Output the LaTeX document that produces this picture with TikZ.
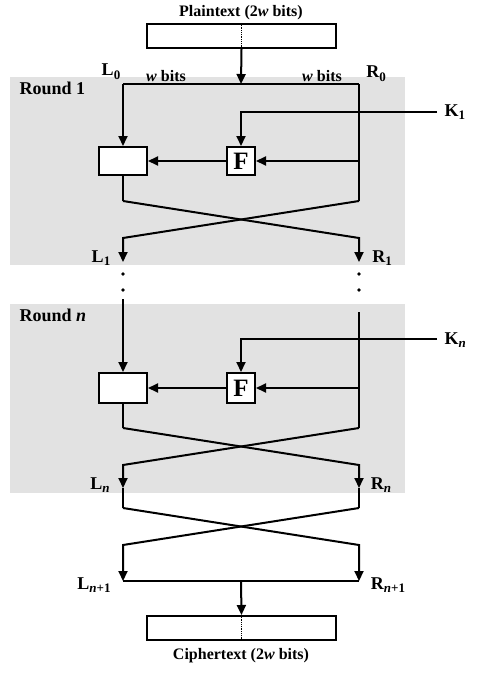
\documentclass[tikz,border=0pt]{standalone}
\usepackage{fontspec}
\setmainfont{Liberation Serif}
\usetikzlibrary{arrows.meta}
\definecolor{roundgray}{RGB}{226,226,226}
\newcommand{\lowsub}[1]{\raisebox{-0.45ex}{\fontsize{13}{14}\selectfont #1}}
\begin{document}
\begin{tikzpicture}[x=1pt,y=-1pt,
  wire/.style={line width=2pt},
  arr/.style={wire,-{Triangle[length=10pt,width=9pt]}},
  blk/.style={draw,line width=2pt,fill=white,inner sep=0pt},
  lbl/.style={font=\fontsize{18}{19}\selectfont\bfseries},
  small/.style={font=\fontsize{16}{17}\selectfont\bfseries},
  rnd/.style={font=\fontsize{18}{19}\selectfont\bfseries,anchor=west}]
\useasboundingbox (0,0) rectangle (477,674);
% gray rounds
\fill[roundgray] (10,77) rectangle (405,265);
\fill[roundgray] (10,304) rectangle (405,493);
\node[rnd] (r1) at (16,88) {Round 1};
\node[rnd] (rn) at (16,315) {Round \textit{n}};
% plaintext
\node[small] (pt) at (241,13) {Plaintext (2\textit{w} bits)};
\node[blk,minimum width=189pt,minimum height=24pt] (pbox) at (241.5,36) {};
\draw[densely dotted,line width=0.8pt] (pbox.north) -- (pbox.south);
\coordinate (top) at (241,84);
\draw[arr] (pbox.south) -- (top);
\coordinate (tl) at (123,84);
\coordinate (tr) at (359,84);
\draw[wire] (tl) -- (tr);
\node[lbl] (l0) at (111,72) {L\lowsub{0}};
\node[lbl] (r0) at (376,74) {R\lowsub{0}};
\node[small] (wl) at (166,76) {\textit{w} bits};
\node[small] (wr) at (322,76) {\textit{w} bits};
% round 1
\node[blk,minimum width=48pt,minimum height=28pt] (x1) at (123,161) {};
\node[blk,minimum width=28pt,minimum height=28pt,font=\fontsize{25}{25}\selectfont\bfseries] (f1) at (241,161) {F};
\draw[arr] (tl) -- (x1.north);
\coordinate (rb1) at (359,201);
\draw[wire] (tr) -- (rb1);
\coordinate (rf1) at (359,161);
\draw[arr] (rf1) -- (f1.east);
\draw[arr] (f1.west) -- (x1.east);
\coordinate (k1s) at (437,112);
\draw[arr] (k1s) -| (f1.north);
\node[lbl,anchor=west] (k1) at (441,112) {K\lowsub{1}};
\coordinate (lb1) at (123,201);
\coordinate (l1) at (123,262);
\coordinate (r1e) at (359,262);
\draw[wire] (x1.south) -- (lb1);
\draw[arr] (lb1) -- (359,238) -- (r1e);
\draw[arr] (rb1) -- (123,238) -- (l1);
\node[lbl] (l1t) at (101,258) {L\lowsub{1}};
\node[lbl] (r1t) at (382,258) {R\lowsub{1}};
% dots
\foreach \xx in {123,359}{
  \fill (\xx,274) circle (1.8pt);
  \fill (\xx,290) circle (1.8pt);
}
% round n
\node[blk,minimum width=48pt,minimum height=30pt] (xn) at (123,388) {};
\node[blk,minimum width=28pt,minimum height=30pt,font=\fontsize{25}{25}\selectfont\bfseries] (fn) at (241,388) {F};
\coordinate (ls) at (123,299);
\coordinate (rs) at (359,312);
\draw[arr] (ls) -- (xn.north);
\coordinate (rbn) at (359,428);
\draw[wire] (rs) -- (rbn);
\coordinate (rfn) at (359,388);
\draw[arr] (rfn) -- (fn.east);
\draw[arr] (fn.west) -- (xn.east);
\coordinate (kns) at (437,339);
\draw[arr] (kns) -| (fn.north);
\node[lbl,anchor=west] (kn) at (441,340) {K\lowsub{\textit{n}}};
\coordinate (lbn) at (123,428);
\coordinate (lnn) at (123,488);
\coordinate (rnn) at (359,488);
\draw[wire] (xn.south) -- (lbn);
\draw[arr] (lbn) -- (359,465) -- (rnn);
\draw[arr] (rbn) -- (123,465) -- (lnn);
\node[lbl] (lnt) at (100,485) {L\lowsub{\textit{n}}};
\node[lbl] (rnt) at (381,485) {R\lowsub{\textit{n}}};
% final swap
\coordinate (la) at (123,581);
\coordinate (ra) at (359,581);
\draw[wire] (lnn) -- (123,508);
\draw[wire] (rnn) -- (359,508);
\draw[arr] (123,508) -- (359,545) -- (ra);
\draw[arr] (359,508) -- (123,545) -- (la);
\draw[wire] (la) -- (ra);
\node[lbl] (lnp) at (94,585) {L\lowsub{\textit{n}+1}};
\node[lbl] (rnp) at (388,585) {R\lowsub{\textit{n}+1}};
\coordinate (bot) at (241,581);
\node[blk,minimum width=189pt,minimum height=24pt] (cbox) at (241.5,628) {};
\draw[densely dotted,line width=0.8pt] (cbox.north) -- (cbox.south);
\draw[arr] (bot) -- (cbox.north);
\node[small] (ct) at (241,656) {Ciphertext (2\textit{w} bits)};
\end{tikzpicture}
\end{document}
